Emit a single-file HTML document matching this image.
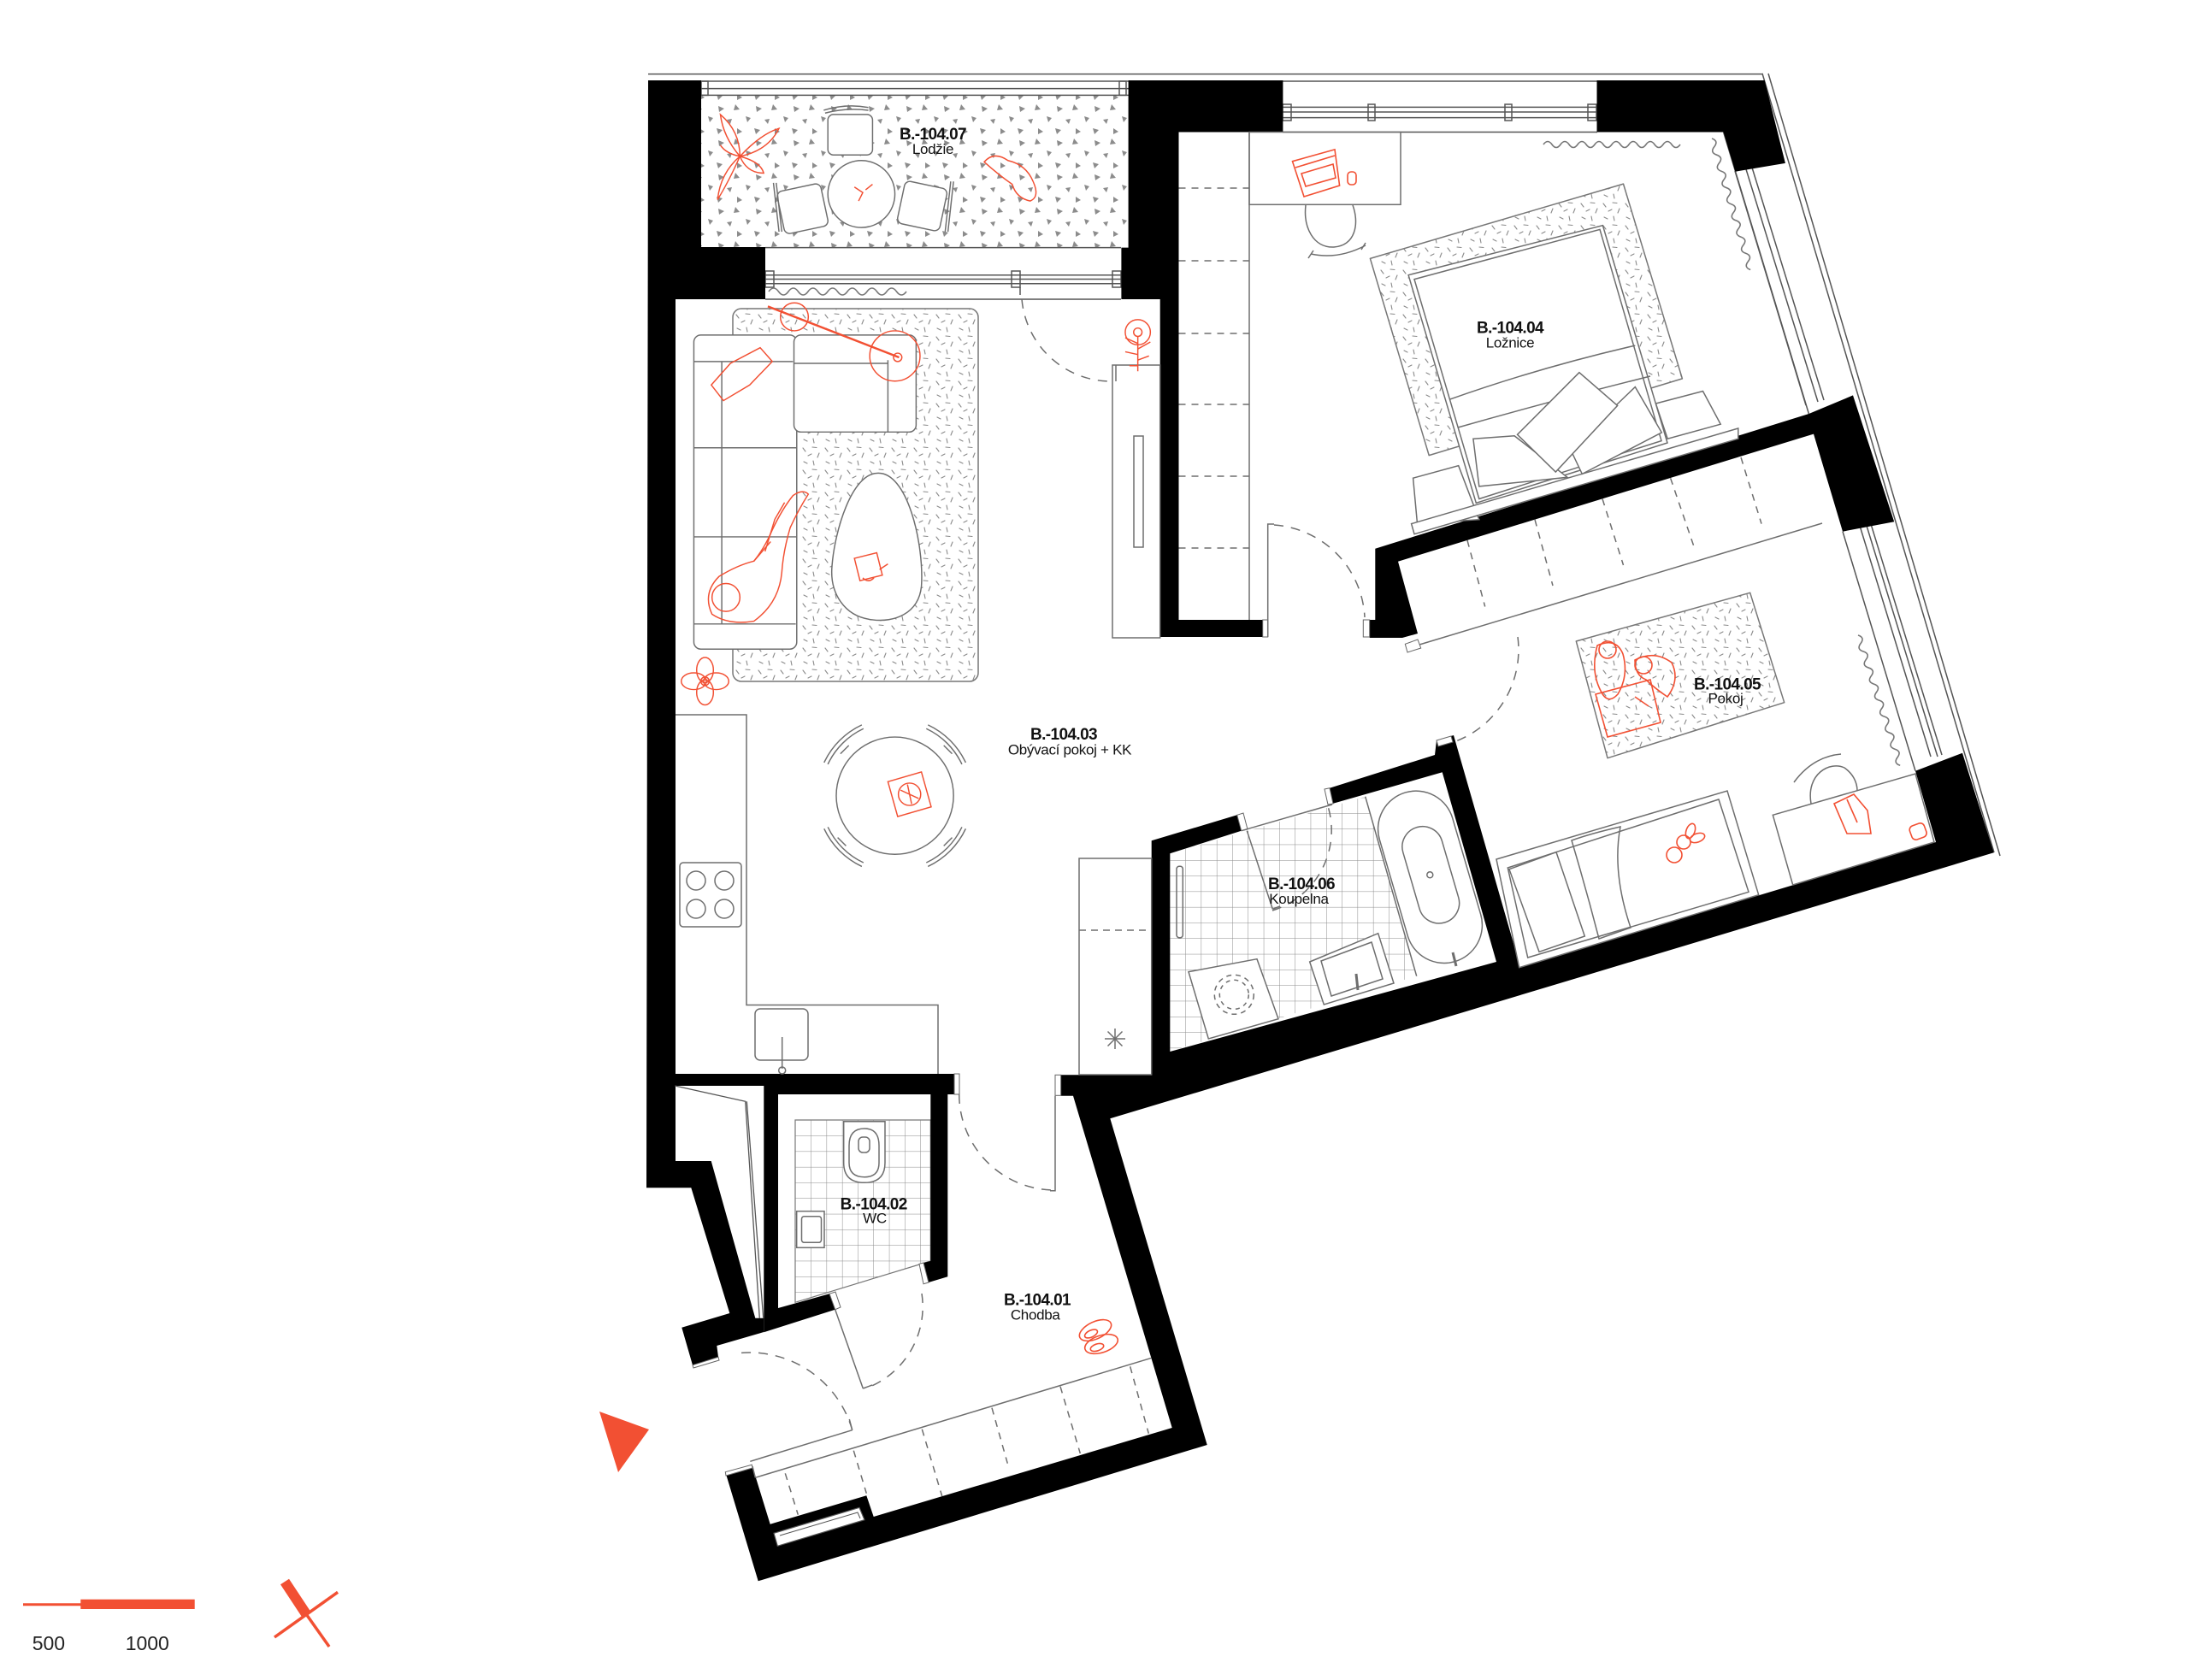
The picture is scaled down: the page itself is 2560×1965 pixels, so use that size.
<!DOCTYPE html>
<html><head><meta charset="utf-8">
<style>
html,body{margin:0;padding:0;background:#fff;}
svg{display:block;}
text{font-family:"Liberation Sans",Arial,sans-serif;}
</style></head><body>
<svg width="2560" height="1965" viewBox="0 0 2560 1965" xmlns="http://www.w3.org/2000/svg">
<defs>
<pattern id="dash" patternUnits="userSpaceOnUse" width="26" height="26">
 <g stroke="#8a8a8a" stroke-width="1.1" stroke-linecap="round">
 <line x1="3" y1="4" x2="6" y2="8"/><line x1="14" y1="3" x2="19" y2="3.5"/>
 <line x1="22" y1="10" x2="20" y2="15"/><line x1="9" y1="13" x2="13" y2="11"/>
 <line x1="4" y1="20" x2="8" y2="22"/><line x1="15" y1="19" x2="16" y2="24"/>
 </g>
</pattern>
<pattern id="tri" patternUnits="userSpaceOnUse" width="44" height="40">
 <g fill="#8c8c8c">
 <path d="M4,4 l7,3 l-6,4z"/><path d="M24,2 l5,6 l-7,1z"/><path d="M36,16 l6,2 l-4,5z"/>
 <path d="M14,20 l6,-1 l-2,6z"/><path d="M2,30 l7,2 l-5,5z"/><path d="M26,30 l6,4 l-6,3z"/>
 </g>
</pattern>
<pattern id="tileB" patternUnits="userSpaceOnUse" x="1368" y="1006" width="18.3" height="18.3">
 <path d="M0,0 H18.3 M0,0 V18.3" stroke="#8a8a8a" stroke-width="1" fill="none"/>
</pattern>
<pattern id="tileW" patternUnits="userSpaceOnUse" x="930" y="1310" width="18.3" height="18.3">
 <path d="M0,0 H18.3 M0,0 V18.3" stroke="#8a8a8a" stroke-width="1" fill="none"/>
</pattern>
</defs>

<!-- floor patterns -->
<rect x="820" y="111.4" width="499.6" height="178.2" fill="url(#tri)"/>
<polygon points="1368.3,998.3 1596.7,931.7 1656.7,1141.7 1368.3,1230" fill="url(#tileB)"/>
<polygon points="930,1310 1088.3,1310 1088.3,1475 930,1523.3" fill="url(#tileW)"/>
<polygon points="930,1310 1088.3,1310 1088.3,1475 930,1523.3" fill="none" stroke="#777" stroke-width="1.2"/>

<!-- rugs -->
<rect x="857" y="361" width="287" height="436" rx="10" fill="url(#dash)" stroke="#777" stroke-width="1.5"/>
<polygon points="1602.4,302.4 1898.5,215.1 1967.4,442.9 1671.2,532.6" fill="url(#dash)" stroke="#777" stroke-width="1.5" stroke-linejoin="round"/>
<polygon points="1843.3,750 2046.7,693.3 2086.7,821.7 1880,886.7" fill="url(#dash)" stroke="#777" stroke-width="1.5" stroke-linejoin="round"/>

<!-- exterior / window lines -->
<g stroke="#555" stroke-width="1.5" fill="none">
 <line x1="758" y1="86.6" x2="2062" y2="86.6"/>
 <line x1="2061" y1="86" x2="2332" y2="997"/>
 <line x1="2068" y1="86" x2="2339" y2="1001"/>
 <!-- loggia window -->
 <line x1="820" y1="95" x2="1320" y2="95"/>
 <line x1="820" y1="103.6" x2="1320" y2="103.6"/>
 <line x1="820" y1="111.4" x2="1320" y2="111.4"/>
 <rect x="820" y="95" width="8" height="16.4"/><rect x="1309" y="95" width="8" height="16.4"/>
 <!-- living window -->
 <line x1="895" y1="289.6" x2="1311" y2="289.6"/>
 <line x1="895" y1="321.7" x2="1311" y2="321.7"/>
 <line x1="895" y1="326.5" x2="1311" y2="326.5"/>
 <line x1="895" y1="331.8" x2="1311" y2="331.8"/>
 <line x1="895" y1="350" x2="1311" y2="350"/>
 <rect x="895" y="317" width="10" height="19"/><rect x="1183" y="317" width="10" height="19"/><rect x="1301" y="317" width="10" height="19"/>
 <line x1="1193" y1="336" x2="1193" y2="345"/>
 <!-- bedroom top window -->
 <line x1="1500" y1="95" x2="1868" y2="95"/>
 <line x1="1500" y1="125.4" x2="1868" y2="125.4"/>
 <line x1="1500" y1="131" x2="1868" y2="131"/>
 <line x1="1500" y1="137.6" x2="1868" y2="137.6"/>
 <line x1="1500" y1="154.5" x2="1868" y2="154.5"/>
 <rect x="1500" y="122" width="10" height="19"/><rect x="1857" y="122" width="10" height="19"/><rect x="1600" y="122" width="8" height="19"/><rect x="1760" y="122" width="8" height="19"/>
 <!-- bedroom right window -->
 <line x1="2015.6" y1="154.5" x2="2115.4" y2="484"/>
 <line x1="2029" y1="200" x2="2112" y2="474"/>
 <line x1="2042" y1="198" x2="2126" y2="470"/>
 <line x1="2049" y1="196" x2="2133" y2="468"/>
 <!-- kid window -->
 <line x1="2155" y1="621.7" x2="2240" y2="901.7"/>
 <line x1="2175" y1="615" x2="2258" y2="885"/>
 <line x1="2183" y1="615" x2="2266" y2="885"/>
 <line x1="2188" y1="613" x2="2271" y2="883"/>
</g>

<!-- WALLS -->
<g fill="#000">
<polygon points="758,94 820,94 820,289 895,289 895,350 790,350 790,1358 831.7,1358 883.3,1541.7 893.3,1541.7 893.3,1558 838.3,1574 840,1587.3 810,1596.7 797.3,1552.7 853.3,1536 808.3,1389.3 756,1389.3"/>
<polygon points="790,1256 1116,1256 1116,1280 1108.3,1280 1108.3,1493.3 1080,1501.7 1075,1478.3 1088.3,1475 1088.3,1280 910,1280 910,1530 970,1513.3 976.7,1531.7 893.3,1558.3 893.3,1270 790,1270"/>
<polygon points="1319.6,94 1500.4,94 1500.4,154.5 1378.5,154.5 1378.5,725 1476.7,725 1476.7,745 1356.7,745 1356.7,350 1311.4,350 1311.4,289.6 1319.6,289.6"/>
<polygon points="1867.5,94 2063.7,94 2087.9,190.9 2029.4,200.7 2015.6,154.5 1867.5,154.5"/>
<polygon points="1601.7,725 1608.3,725 1608.3,641.7 2115.4,484 2167,462.4 2215.2,610.2 2155,621.7 2121,507.6 1635,656.7 1658,741 1640,746 1601.7,746"/>
<polygon points="1240.7,1257.3 1346.7,1257.3 1346.7,983.3 1446.7,953.3 1451.7,971.7 1368.3,998.3 1368.3,1230 1750,1125 1686.7,903.3 1558.3,940 1555,921.7 1678,883 1680,866 1700,860 1778,1131 2264,985 2240,901.7 2295,880.7 2331.7,997.3 1298.3,1308.3 1411.7,1690 886.7,1849.3 848.3,1721.7 879.3,1713.3 900.7,1782.7 1013.3,1749.3 1021.7,1774 1370.7,1670 1255,1281.7 1240.7,1281.7"/>
</g>
<!-- radiator niche -->
<polygon points="905,1793.3 1005,1763.3 1011,1777.7 909.3,1808.3" fill="#fff" stroke="#555" stroke-width="1.2"/>
<polyline points="912,1796 1003,1769 1006,1776" fill="none" stroke="#555" stroke-width="1"/>
<!-- jambs -->
<g fill="#fff" stroke="#666" stroke-width="1">
 <rect x="1476.7" y="725" width="6" height="20"/><rect x="1594.3" y="725" width="7.4" height="20"/>
 <rect x="1116" y="1256" width="6" height="24"/><rect x="1234" y="1257.3" width="6.7" height="24"/>
 <polygon points="1446.7,953.3 1454,951 1459,970 1451.7,971.7"/>
 <polygon points="1549,923 1555,921.7 1559,940 1553,941"/>
 <polygon points="1680,866 1697,861 1699,868 1682,873"/>
 <polygon points="970,1513.3 977,1511 983,1529 976.7,1531.7"/>
 <polygon points="1075,1478.3 1080,1477 1086,1500 1080,1501.7"/>
 <polygon points="848.3,1721.7 879.3,1713.3 880,1717 849,1726"/>
 <polygon points="810,1596.7 840,1587.3 841,1591 811,1600"/>
 <polygon points="1643.3,753.3 1658,748 1661.7,758 1646,763"/>
</g>

<!-- shaft lines -->
<polyline points="789.3,1270 871.7,1288.3 888.3,1541.7" fill="none" stroke="#555" stroke-width="1.3"/>
<line x1="873.3" y1="1288.3" x2="892.7" y2="1541.7" stroke="#555" stroke-width="1.3"/>

<!-- general gray furniture lines (orig coords) -->
<g stroke="#6e6e6e" stroke-width="1.5" fill="none">
 <!-- kitchen counter -->
 <polyline points="790,836 873,836 873,1175.5 1097,1175.5 1097,1256"/>
 <rect x="795" y="1009" width="72" height="75" rx="4"/>
 <circle cx="814" cy="1030" r="11"/><circle cx="847" cy="1030" r="11"/><circle cx="814" cy="1063" r="11"/><circle cx="847" cy="1063" r="11"/>
 <rect x="883" y="1180" width="62" height="60" rx="6"/>
 <line x1="914.7" y1="1213" x2="914.7" y2="1250"/><circle cx="914.7" cy="1252" r="4"/>
 <!-- tall cabinet near bath -->
 <rect x="1262" y="1004" width="84.7" height="253"/>
 <line x1="1262" y1="1088" x2="1346" y2="1088" stroke-dasharray="8 6"/>
 <g transform="translate(1304,1215)"><line x1="-12" y1="0" x2="12" y2="0"/><line x1="0" y1="-12" x2="0" y2="12"/><line x1="-8.5" y1="-8.5" x2="8.5" y2="8.5"/><line x1="-8.5" y1="8.5" x2="8.5" y2="-8.5"/></g>
 <!-- living cabinet -->
 <rect x="1301" y="427" width="55.7" height="319"/>
 <rect x="1326" y="510" width="11" height="130"/>
 <line x1="1305" y1="427" x2="1305" y2="446"/>
 <!-- bedroom wardrobe -->
 <line x1="1461" y1="154.5" x2="1461" y2="725"/>
 <g stroke-dasharray="8 7">
  <line x1="1378.5" y1="220" x2="1461" y2="220"/><line x1="1378.5" y1="305" x2="1461" y2="305"/>
  <line x1="1378.5" y1="390" x2="1461" y2="390"/><line x1="1378.5" y1="473" x2="1461" y2="473"/>
  <line x1="1378.5" y1="557" x2="1461" y2="557"/><line x1="1378.5" y1="641" x2="1461" y2="641"/>
 </g>
 <!-- bedroom desk & chair -->
 <rect x="1461" y="154.5" width="177" height="84.8"/>
 <path d="M1527,240 C1524,266 1536,290 1560,289 C1585,287 1590,262 1582,240"/>
 <path d="M1533,297 Q1565,304 1597,287"/>
 <path d="M1530,302 l6,-9 M1592,292 l5,-8"/>
 <!-- bedroom bed -->
 <polygon points="1652.6,559.2 1705.7,544.7 1729.8,607.7 1657.5,612.5" fill="#fff"/>
 <polygon points="1936.4,472 1991.5,457.5 2012.2,496.2 1950.2,513.2" fill="#fff"/>
 <polygon points="1650.6,612.6 2032.8,501 2032.8,513.2 1654,624.7" fill="#fff"/>
 <polygon points="1647.1,321.7 1874.4,263.6 1950,518 1726.3,588.3" fill="#fff"/>
 <polygon points="1654,326.6 1871,268.4 1943,515.6 1729.8,583.5"/>
 <path d="M1695.3,467.2 Q1800,430 1912.3,404.1"/>
 <path d="M1705,500 Q1810,470 1930,440"/>
 <polygon points="1722.9,513.2 1771.1,509.8 1833,558.3 1729.8,568.9" fill="#fff"/>
 <polygon points="1836.5,525.3 1912.3,452.6 1943.3,505.9 1850.3,554.4" fill="#fff"/>
 <polygon points="1774.5,508.3 1846.9,435.7 1891.6,474.4 1819.3,552" fill="#fff"/>
 <!-- kid wardrobe -->
 <line x1="1660" y1="754" x2="2131" y2="612"/>
 <g stroke-dasharray="8 7">
  <line x1="1716" y1="632" x2="1736.7" y2="709.5"/><line x1="1795" y1="607.7" x2="1816" y2="685"/>
  <line x1="1874" y1="583.5" x2="1898.5" y2="661"/><line x1="1953.6" y1="559.2" x2="1981" y2="639.2"/>
  <line x1="2036" y1="535" x2="2060" y2="612.6"/>
 </g>
 <!-- kid bed -->
 <polygon points="1750,1005 2020,925 2056.7,1046.7 1776.7,1131.7" fill="#fff"/>
 <polygon points="1763.3,1015 2010,935 2045,1043.3 1786.7,1120"/>
 <polygon points="1765,1016.7 1820,996.7 1853.3,1095 1800,1113.3"/>
 <path d="M1838,983 Q1860,975 1895,967 Q1885,1020 1907,1085 L1870,1098 Q1855,1040 1838,983Z"/>
 <!-- kid desk & chair -->
 <polygon points="2073.3,953.3 2240,905 2262,985 2096.7,1035" fill="#fff"/>
 <path d="M2118,940 C2112,905 2140,890 2157,898 C2167,905 2172,915 2172,925"/>
 <path d="M2098,915 Q2120,885 2153,882"/>
 <!-- entrance wardrobe -->
 <line x1="883.3" y1="1728.3" x2="1346.7" y2="1588.3"/>
 <line x1="880" y1="1715" x2="883.3" y2="1728.3"/>
 <g stroke-dasharray="8 7">
  <line x1="918.3" y1="1723.3" x2="933.3" y2="1771.7"/><line x1="998.3" y1="1696.7" x2="1013.3" y2="1746.7"/>
  <line x1="1078.3" y1="1671.7" x2="1101.7" y2="1750"/><line x1="1160" y1="1646.7" x2="1178.3" y2="1711.7"/>
  <line x1="1240" y1="1621.7" x2="1263.3" y2="1700"/><line x1="1321.7" y1="1598.3" x2="1343.3" y2="1676.7"/>
 </g>
 <!-- bathroom -->
 <line x1="1451.7" y1="971.7" x2="1558" y2="941"/>
 <line x1="1596.7" y1="931.7" x2="1656.7" y2="1141.7"/>
 <rect x="1628" y="922.8" width="89" height="206" rx="44.5" transform="rotate(-16.3 1672.5 1025.8)" fill="#fff"/>
 <rect x="1649.5" y="965.3" width="47.5" height="116" rx="23.7" transform="rotate(-16.3 1673.3 1023.3)"/>
 <circle cx="1672.3" cy="1023.3" r="3.5"/>
 <line x1="1699" y1="1114" x2="1703" y2="1130" stroke-width="3"/>
 <polygon points="1531.7,1125 1611.7,1091.7 1630,1150 1548.3,1175" fill="#fff"/>
 <polygon points="1545,1124 1604,1102 1617,1145 1557,1165"/>
 <line x1="1586" y1="1139" x2="1588" y2="1158" stroke-width="3"/>
 <polygon points="1390,1136.7 1470,1121.7 1495,1191.7 1413.3,1215" fill="#fff"/>
 <circle cx="1443.3" cy="1163.3" r="23" stroke-dasharray="6 5"/>
 <circle cx="1443.3" cy="1163.3" r="17" stroke-dasharray="5 5"/>
 <rect x="1376" y="1013.3" width="7.3" height="83.4" rx="3"/>
 <!-- WC -->
 <path d="M986.7,1311.7 H1035 V1360 Q1035,1383.3 1011,1383.3 Q986.7,1383.3 986.7,1360 Z" fill="#fff"/>
 <path d="M993,1340 Q993,1320 1011,1320 Q1028,1320 1028,1340 V1360 Q1028,1376.7 1011,1376.7 Q993,1376.7 993,1360Z"/>
 <rect x="1004" y="1330" width="13" height="18" rx="5"/>
 <rect x="931.7" y="1416.7" width="32.3" height="42.6" fill="#fff"/>
 <rect x="937.5" y="1422.7" width="23" height="30.6" rx="3"/>
</g>

<!-- door arcs & leaves -->
<g stroke="#6e6e6e" stroke-width="1.5" fill="none">
 <g stroke-dasharray="11 9">
  <path d="M1195,350 A105,105 0 0 0 1300,446"/>
  <path d="M1490,614 A114,114 0 0 1 1596,722"/>
  <path d="M1775,745 A115,115 0 0 1 1700,868"/>
  <path d="M1488,1065 A98,98 0 0 0 1553,943"/>
  <path d="M1078,1513 A102,102 0 0 1 1015,1623"/>
  <path d="M996.7,1672.7 A125,125 0 0 0 858.3,1583.3"/>
  <path d="M1121.7,1280 A112,112 0 0 0 1233,1392"/>
 </g>
 <polyline points="1490,613 1482.7,613 1482.7,745"/>
 <line x1="1458.3" y1="971.7" x2="1488.3" y2="1063.3"/><line x1="1488.3" y1="1063.3" x2="1497" y2="1060"/>
 <line x1="976.7" y1="1531.7" x2="1009.3" y2="1624"/><line x1="1009.3" y1="1624" x2="1020" y2="1620"/>
 <line x1="877.3" y1="1709.3" x2="996.7" y2="1672.7"/><line x1="996.7" y1="1672.7" x2="993.3" y2="1660"/>
 <polyline points="1234,1281.7 1234,1392.7 1228,1392.7"/>
</g>

<!-- curtains -->
<g stroke="#777" stroke-width="1.6" fill="none">
 <path transform="translate(1805,169)" d="M0,0 q5,-7 10,0 t10,0 t10,0 t10,0 t10,0 t10,0 t10,0 t10,0 t10,0 t10,0 t10,0 t10,0 t10,0 t10,0 t10,0 t10,0"/>
 <path transform="translate(2002,162) rotate(73.6)" d="M0,0 q5,-7 10,0 t10,0 t10,0 t10,0 t10,0 t10,0 t10,0 t10,0 t10,0 t10,0 t10,0 t10,0 t10,0 t10,0 t10,0 t10,0"/>
 <path transform="translate(2173,743) rotate(72.1)" d="M0,0 q5,-7 10,0 t10,0 t10,0 t10,0 t10,0 t10,0 t10,0 t10,0 t10,0 t10,0 t10,0 t10,0 t10,0 t10,0 t10,0 t10,0"/>
 <path transform="translate(899,341)" d="M0,0 q5.75,-8 11.5,0 t11.5,0 t11.5,0 t11.5,0 t11.5,0 t11.5,0 t11.5,0 t11.5,0 t11.5,0 t11.5,0 t11.5,0 t11.5,0 t11.5,0 t11.5,0"/>
</g>

<!-- red items orig coords -->
<g stroke="#f25033" stroke-width="1.6" fill="none">
 <!-- laptop -->
 <polygon points="1511.5,188.7 1561,174.9 1566.6,217 1525,230"/>
 <line x1="1515" y1="196" x2="1561" y2="182"/>
 <polygon points="1522,203 1559,192 1562,208 1527,218"/>
 <rect x="1576" y="201" width="10" height="15" rx="4"/>
 <!-- kids on rug -->
 <polygon points="1866,812 1930,795 1942,845 1880,862"/>
 <path d="M1868,755 Q1890,745 1898,765 Q1905,790 1892,812 Q1880,825 1872,808 Q1860,785 1868,755Z"/>
 <circle cx="1880" cy="760" r="10"/>
 <path d="M1912,772 Q1935,760 1955,775 Q1965,795 1950,815 Q1935,805 1925,795 Q1912,790 1912,772Z"/>
 <circle cx="1922" cy="778" r="10"/>
 <line x1="1912" y1="815" x2="1928" y2="826"/>
 <!-- teddy -->
 <circle cx="1958" cy="1000" r="9"/><circle cx="1969" cy="985" r="8"/>
 <ellipse cx="1977" cy="972" rx="5" ry="9" transform="rotate(20 1977 972)"/>
 <ellipse cx="1985" cy="980" rx="9" ry="5" transform="rotate(-20 1985 980)"/>
 <!-- kid desk items -->
 <polygon points="2145,940 2168,929 2184,948 2188,975 2160,975"/>
 <line x1="2160" y1="935" x2="2172" y2="962"/>
 <rect x="2234" y="964" width="18" height="17" rx="5" transform="rotate(-20 2243 972)"/>
 <!-- slippers -->
 <ellipse cx="1281" cy="1556" rx="20" ry="10" transform="rotate(-25 1281 1556)"/>
 <ellipse cx="1288" cy="1572" rx="20" ry="10" transform="rotate(-18 1288 1572)"/>
 <ellipse cx="1276" cy="1560" rx="8" ry="4" transform="rotate(-25 1276 1560)"/>
 <ellipse cx="1283" cy="1576" rx="8" ry="4" transform="rotate(-18 1283 1576)"/>
</g>

<!-- living room + loggia furniture in thumbnail coords -->
<g transform="scale(1.6327)" stroke-width="0.9" fill="none">
 <g stroke="#6e6e6e">
  <!-- loggia chairs & table -->
  <rect x="593" y="82" width="32" height="29" rx="4" fill="#fff"/>
  <path d="M590,79 Q606,74 622,77 M591,81 Q606,77 622,79"/>
  <rect x="559" y="134" width="32" height="31" rx="4" fill="#fff" transform="rotate(-12 575 150)"/>
  <path d="M554,131 L558,166 M556,131 L560,166"/>
  <rect x="645" y="132" width="31" height="31" rx="4" fill="#fff" transform="rotate(12 660 148)"/>
  <path d="M681,130 L677,166 M683,130 L679,166"/>
  <circle cx="617" cy="139" r="24" fill="#fff"/>
  <!-- sofa -->
  <rect x="497" y="240" width="73.7" height="225" rx="5" fill="#fff"/>
  <rect x="568.7" y="240" width="87.5" height="69.5" rx="5" fill="#fff"/>
  <line x1="517" y1="259" x2="517" y2="447"/>
  <path d="M497,259 H568 M568.7,260.3 H636 M636,258 V309.5"/>
  <path d="M517,320.8 H570.7 M517,384.6 H570.7 M497,320.8 H517 M497,384.6 H517 M497,447 H570"/>
  <!-- coffee table -->
  <path d="M628,339 C650,337 662,390 660,420 C658,440 640,446 625,444 C605,442 594,425 596,405 C598,380 610,340 628,339 Z" fill="#fff"/>
  <!-- dining -->
  <circle cx="641" cy="570" r="42" fill="#fff"/>
  <path d="M590.3,546.3 A56,56 0 0 1 617.3,519.3 M593,547.5 A53,53 0 0 1 618.5,522"/>
  <path d="M664.7,519.3 A56,56 0 0 1 691.7,546.3 M663.5,522 A53,53 0 0 1 689,547.5"/>
  <path d="M691.7,593.7 A56,56 0 0 1 664.7,620.7 M689,592.5 A53,53 0 0 1 663.5,618"/>
  <path d="M617.3,620.7 A56,56 0 0 1 590.3,593.7 M618.5,618 A53,53 0 0 1 593,592.5"/>
  <path d="M602,540 l6,-6 M676,534 l6,6 M682,600 l-6,6 M606,606 l-6,-6"/>
 </g>
 <g stroke="#f25033">
  <!-- loggia plant -->
  <path d="M530,112 Q518,98 516,82 Q530,94 530,112 Z"/>
  <path d="M530,112 Q545,96 558,92 Q550,108 530,112 Z"/>
  <path d="M530,112 Q545,116 547,124 Q535,124 530,112 Z"/>
  <path d="M530,112 Q522,130 514,143 Q516,124 530,112 Z"/>
  <path d="M530,112 Q520,110 516,104"/>
  <!-- cat -->
  <path d="M705,116 Q712,108 722,115 Q735,118 740,130 Q745,141 738,144 Q728,142 725,132 Q715,125 705,116Z"/>
  <path d="M612,134 l6,4 l-3,6 M620,136 l5,-4"/>
  <!-- lamp -->
  <line x1="550" y1="219.5" x2="644" y2="256" stroke-width="1.5"/>
  <circle cx="569" cy="227" r="10"/>
  <circle cx="641" cy="255" r="18"/>
  <circle cx="643" cy="256" r="3"/>
  <!-- pillow -->
  <polygon points="509.5,275.8 523.2,260.3 544.5,249.1 553.2,258.9 537,275.8 518.2,287"/>
  <!-- person -->
  <path d="M510,440 Q503,425 515,413 Q528,405 540,402 Q548,392 553,380 Q560,365 568,355 Q575,350 579,354 Q572,365 566,378 Q561,395 560,410 Q558,432 540,445 Q522,448 510,440Z"/>
  <circle cx="520" cy="428" r="10"/>
  <path d="M548,395 L555,372 L562,360 M540,402 L552,388"/>
  <!-- coffee table item -->
  <polygon points="612,400 628,396 632,412 616,416"/>
  <path d="M618,414 q4,4 8,0 M630,408 l6,-4"/>
  <!-- plants -->
  <circle cx="815" cy="238" r="9"/><circle cx="815" cy="238" r="3"/>
  <path d="M815,241 V266 M815,246 l-9,-4 M815,250 l9,-5 M815,254 l-9,-2 M815,258 l8,-3 M815,262 l-6,0"/>
  <g transform="translate(505,488)">
   <ellipse cx="0" cy="-8" rx="6" ry="9"/><ellipse cx="8" cy="0" rx="9" ry="6"/><ellipse cx="0" cy="8" rx="6" ry="9"/><ellipse cx="-8" cy="0" rx="9" ry="6"/><circle r="3"/>
  </g>
  <!-- pizza box -->
  <polygon points="636,560 660,553 667,578 643,585"/>
  <circle cx="651.5" cy="569" r="8"/>
  <path d="M645,566 l13,6 M650,562 l3,14"/>
 </g>
</g>

<!-- labels -->
<g fill="#111" text-anchor="middle">
 <text x="1091" y="163" font-size="19" font-weight="bold" letter-spacing="-0.6">B.-104.07</text>
 <text x="1091" y="180" font-size="17" letter-spacing="-0.3">Lodžie</text>
 <text x="1766" y="389.6" font-size="19" font-weight="bold" letter-spacing="-0.6">B.-104.04</text>
 <text x="1766" y="406.6" font-size="17" letter-spacing="-0.3">Ložnice</text>
 <text x="1244" y="865" font-size="19" font-weight="bold" letter-spacing="-0.6">B.-104.03</text>
 <text x="1251" y="882.5" font-size="17" letter-spacing="-0.3">Obývací pokoj + KK</text>
 <text x="1522" y="1040" font-size="19" font-weight="bold" letter-spacing="-0.6">B.-104.06</text>
 <text x="1519" y="1057" font-size="17" letter-spacing="-0.3">Koupelna</text>
 <text x="2020" y="806.7" font-size="19" font-weight="bold" letter-spacing="-0.6">B.-104.05</text>
 <text x="2018" y="822.7" font-size="17" letter-spacing="-0.3">Pokoj</text>
 <text x="1021.7" y="1414.3" font-size="19" font-weight="bold" letter-spacing="-0.6">B.-104.02</text>
 <text x="1023" y="1430.7" font-size="17" letter-spacing="-0.3">WC</text>
 <text x="1213" y="1526.7" font-size="19" font-weight="bold" letter-spacing="-0.6">B.-104.01</text>
 <text x="1210.7" y="1543.3" font-size="17" letter-spacing="-0.3">Chodba</text>
</g>

<!-- entrance marker -->
<polygon points="701,1651 759,1672 723,1722" fill="#f25033"/>

<!-- scale bar -->
<line x1="27" y1="1876.7" x2="95" y2="1876.7" stroke="#f25033" stroke-width="3"/>
<rect x="94.3" y="1870.7" width="133.4" height="11.3" fill="#f25033"/>
<text x="37.7" y="1930" font-size="23" fill="#222">500</text>
<text x="146.7" y="1930" font-size="23" fill="#222">1000</text>

<!-- north arrow -->
<line x1="333" y1="1850" x2="358.3" y2="1888.3" stroke="#f25033" stroke-width="12"/>
<line x1="358.3" y1="1888.3" x2="385" y2="1926" stroke="#f25033" stroke-width="3.5"/>
<line x1="321" y1="1915" x2="395" y2="1862.3" stroke="#f25033" stroke-width="3.5"/>
</svg>
</body></html>
